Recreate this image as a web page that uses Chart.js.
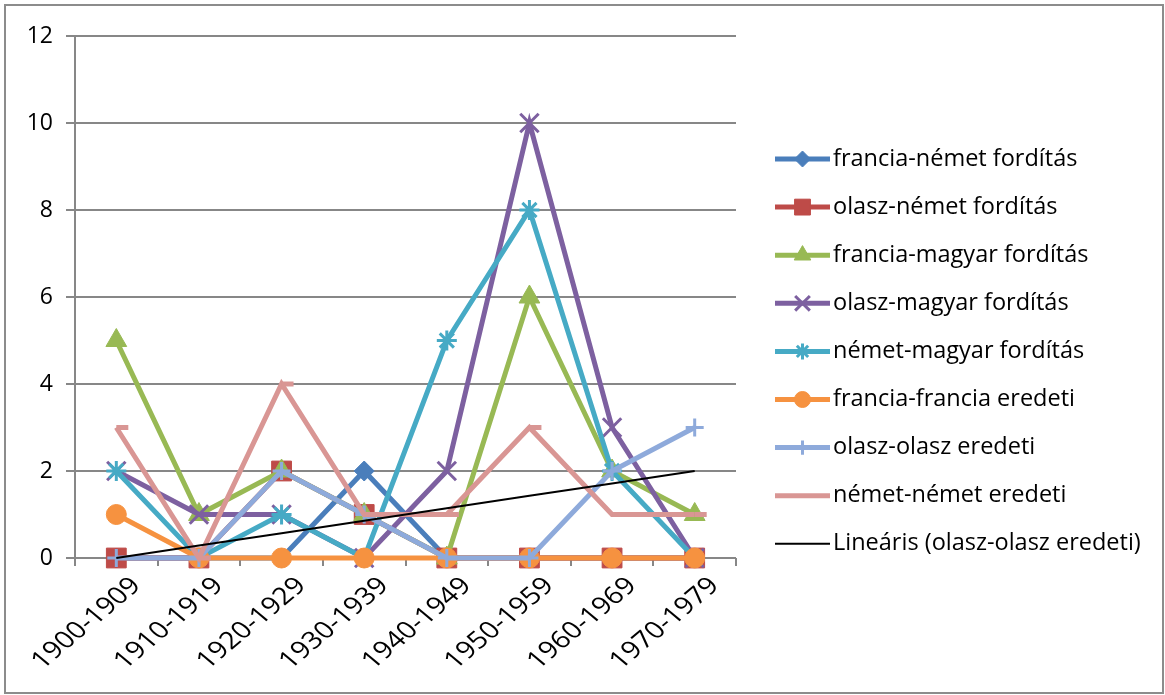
<!DOCTYPE html>
<html>
<head>
<meta charset="utf-8">
<script src="https://cdn.jsdelivr.net/npm/chart.js@4.4.1/dist/chart.umd.min.js"></script>
<style>
  html, body { margin: 0; padding: 0; background: #ffffff; }
  #wrap { width: 1165px; height: 695px; position: relative; }
</style>
</head>
<body>
<div id="wrap"><canvas id="c" width="1165" height="695"></canvas></div>
<script>
// Decades on the category axis
const decades = ['1900-1909', '1910-1919', '1920-1929', '1930-1939',
                 '1940-1949', '1950-1959', '1960-1969', '1970-1979'];

// Number of works per decade, by source/target language pair
const franciaNemet   = [0, 0, 0, 2, 0, 0, 0, 0];
const olaszNemet     = [0, 0, 2, 1, 0, 0, 0, 0];
const franciaMagyar  = [5, 1, 2, 1, 0, 6, 2, 1];
const olaszMagyar    = [2, 1, 1, 0, 2, 10, 3, 0];
const nemetMagyar    = [2, 0, 1, 0, 5, 8, 2, 0];
const franciaFrancia = [1, 0, 0, 0, 0, 0, 0, 0];
const olaszOlasz     = [0, 0, 2, 1, 0, 0, 2, 3];
const nemetNemet     = [3, 0, 4, 1, 1, 3, 1, 1];

// Value axis
const yMin = 0, yMax = 12, yStep = 2;

// Least-squares linear trend of the Italian originals
function linearTrend(values) {
  const n = values.length;
  const xs = values.map((_, i) => i + 1);
  const mx = xs.reduce((a, b) => a + b, 0) / n;
  const my = values.reduce((a, b) => a + b, 0) / n;
  let sxy = 0, sxx = 0;
  for (let i = 0; i < n; i++) {
    sxy += (xs[i] - mx) * (values[i] - my);
    sxx += (xs[i] - mx) * (xs[i] - mx);
  }
  const slope = sxy / sxx;
  return xs.map(x => my + slope * (x - mx));
}
const olaszOlaszTrend = linearTrend(olaszOlasz);

const FAMILY = "'Open Sans', 'DejaVu Sans', sans-serif";
const TICK_FONT = { family: FAMILY, size: 23 };
const LEGEND_SIZE = 23.5;
const XLABEL_SIZE = 24;
const GRID = '#878787';

function series(label, data, color, style, radius, markerWidth, filled) {
  return {
    label, data,
    borderColor: color,
    backgroundColor: color,
    borderWidth: 5,
    pointStyle: style,
    pointRadius: radius,
    pointHoverRadius: radius,
    pointBorderWidth: markerWidth,
    pointBorderColor: color,
    pointBackgroundColor: filled ? color : 'rgba(0,0,0,0)',
    tension: 0,
    fill: false,
    clip: false
  };
}

const datasets = [
  series('francia-német fordítás',   franciaNemet,   '#4A7EBB', 'rectRot',  10, 1, true),
  series('olasz-német fordítás',     olaszNemet,     '#BE4B48', 'rect',     14, 1, true),
  series('francia-magyar fordítás',  franciaMagyar,  '#98B954', 'triangle', 12, 1, true),
  series('olasz-magyar fordítás',    olaszMagyar,    '#7D60A0', 'crossRot', 13, 3, false),
  series('német-magyar fordítás',    nemetMagyar,    '#46AAC5', 'star',     10, 3, false),
  series('francia-francia eredeti',  franciaFrancia, '#F69240', 'circle',   10, 1, true),
  series('olasz-olasz eredeti',      olaszOlasz,     '#8EAADB', 'cross',    9,  3, false),
  series('német-német eredeti',      nemetNemet,     '#D99694', 'dash',     12, 5, false),
  {
    label: 'Lineáris (olasz-olasz eredeti)',
    data: olaszOlaszTrend,
    borderColor: '#000000',
    backgroundColor: '#000000',
    borderWidth: 2,
    pointRadius: 0,
    pointHoverRadius: 0,
    tension: 0,
    fill: false,
    clip: false
  }
];
// later series are painted over earlier ones, the trend line on top
datasets.forEach((d, i) => { d.order = datasets.length - i; });
datasets[datasets.length - 1].order = 0;

// Outer frame of the chart
const framePlugin = {
  id: 'frame',
  afterDraw(chart) {
    const ctx = chart.ctx;
    ctx.save();
    ctx.strokeStyle = '#8c8c8c';
    ctx.lineWidth = 2;
    ctx.strokeRect(5, 5, 1158, 688);
    ctx.restore();
  }
};

// Slanted, slightly widened decade labels under the category ticks
const slantLabelPlugin = {
  id: 'slantLabels',
  afterDraw(chart) {
    const xs = chart.scales.x;
    const ctx = chart.ctx;
    ctx.save();
    ctx.font = XLABEL_SIZE + 'px ' + FAMILY;
    ctx.fillStyle = '#000000';
    ctx.textAlign = 'right';
    ctx.textBaseline = 'middle';
    chart.data.labels.forEach((lab, i) => {
      const x = xs.getPixelForTick(i) + 20;
      const y = xs.top + 24;
      ctx.save();
      ctx.translate(x, y);
      ctx.transform(1.2, 0, 0, 1, 0, 0);
      ctx.rotate(-Math.PI / 4);
      ctx.fillText(lab, 0, 0);
      ctx.restore();
    });
    ctx.restore();
  }
};

// Legend on the right: line sample, marker and label for each dataset
const legendPlugin = {
  id: 'sideLegend',
  afterDraw(chart) {
    const ctx = chart.ctx;
    const x0 = 775, x1 = 830, tx = 833, top = 159, gap = 48.1;
    ctx.save();
    chart.data.datasets.forEach((ds, i) => {
      const y = top + i * gap;
      ctx.strokeStyle = ds.borderColor;
      ctx.lineWidth = ds.borderWidth;
      ctx.lineCap = 'butt';
      ctx.beginPath();
      ctx.moveTo(x0, y);
      ctx.lineTo(x1, y);
      ctx.stroke();
      if (ds.pointRadius > 0 && ds.pointStyle !== 'dash') {
        ctx.fillStyle = ds.pointBackgroundColor;
        ctx.strokeStyle = ds.pointBorderColor;
        ctx.lineWidth = ds.pointBorderWidth;
        Chart.helpers.drawPoint(ctx, {
          pointStyle: ds.pointStyle,
          rotation: 0,
          radius: ds.pointRadius * 0.8,
          borderWidth: ds.pointBorderWidth
        }, (x0 + x1) / 2, y);
      }
      ctx.fillStyle = '#000000';
      ctx.font = LEGEND_SIZE + 'px ' + FAMILY;
      ctx.textAlign = 'left';
      ctx.textBaseline = 'middle';
      ctx.fillText(ds.label, tx, y);
    });
    ctx.restore();
  }
};

new Chart(document.getElementById('c'), {
  type: 'line',
  data: { labels: decades, datasets },
  options: {
    responsive: false,
    animation: false,
    events: [],
    layout: { padding: { left: 7, top: 36, right: 429, bottom: 7 } },
    plugins: {
      legend: { display: false },
      tooltip: { enabled: false }
    },
    scales: {
      x: {
        offset: true,
        grid: {
          display: true,
          offset: true,
          drawOnChartArea: false,
          drawTicks: true,
          tickLength: 8,
          color: GRID,
          lineWidth: 2
        },
        border: { display: false },
        ticks: { display: false, autoSkip: false },
        afterFit(scale) { scale.height = 130; }
      },
      y: {
        min: yMin,
        max: yMax,
        ticks: { stepSize: yStep, font: TICK_FONT, color: '#000000', padding: 13 },
        grid: { color: GRID, lineWidth: 2, tickLength: 9 },
        border: { color: GRID, width: 2 },
        afterFit(scale) { scale.width = 68; }
      }
    }
  },
  plugins: [framePlugin, slantLabelPlugin, legendPlugin]
});
</script>
</body>
</html>
